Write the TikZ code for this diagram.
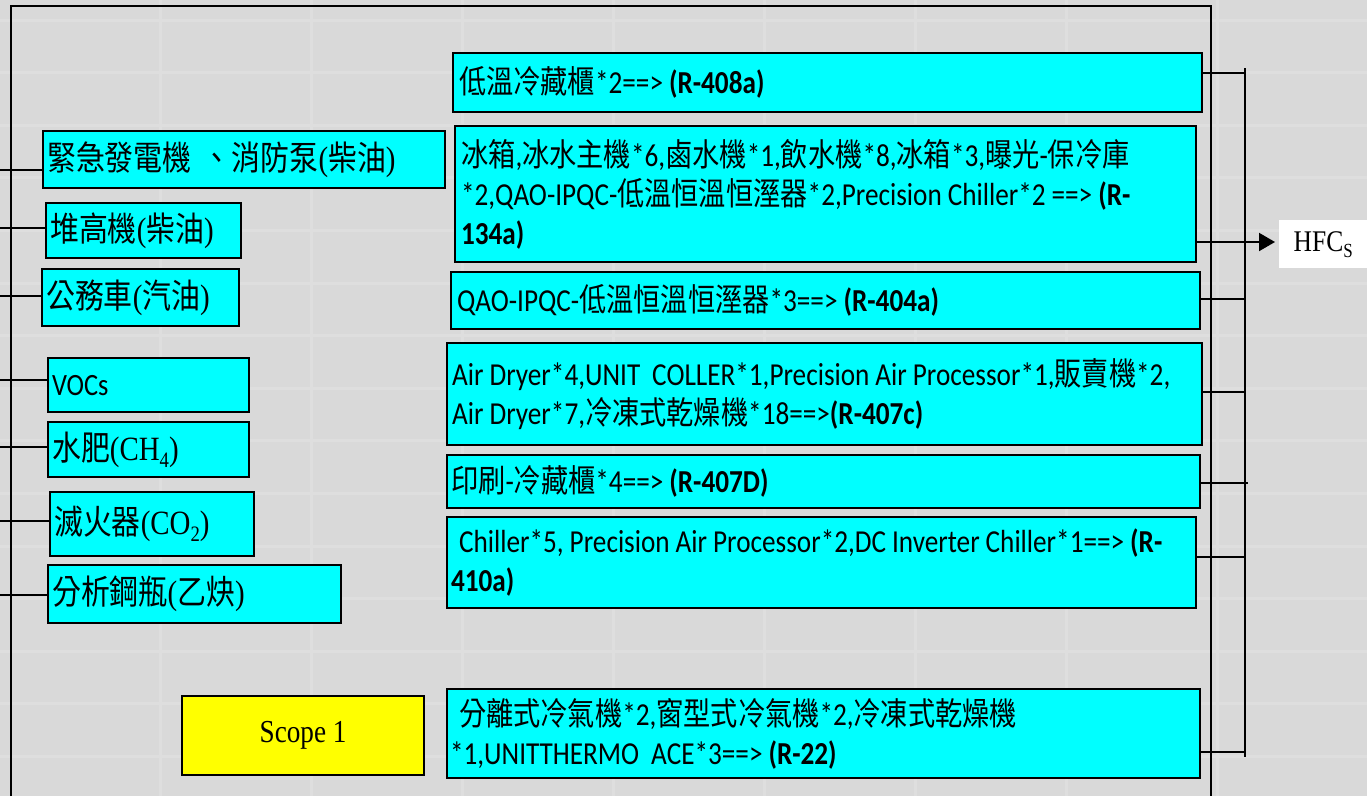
\documentclass[tikz,border=0pt]{standalone}
\usepackage{fontspec}
\setmainfont{Liberation Serif}[FakeStretch=0.85]
\newfontfamily\zhf{Noto Sans CJK TC}[FakeStretch=0.85]
\newfontfamily\calf{Carlito}[FakeStretch=0.85]
\newcommand\zh[1]{{\zhf #1}}
\newcommand\tightspace{\spaceskip=6pt\relax}
\usetikzlibrary{arrows.meta}
\definecolor{bgc}{HTML}{D9D9D9}
\definecolor{gridc}{HTML}{DEDEDE}
\definecolor{cy}{HTML}{00FFFF}
\definecolor{yl}{HTML}{FFFF00}
\tikzset{
  conn/.style={line width=2pt, draw=black},
  anybox/.style={draw=black, line width=2.2pt, anchor=north west, inner ysep=0pt, align=left},
  lbox/.style={anybox, fill=cy, inner xsep=4pt, font=\fontsize{34}{40}\selectfont},
  rbox/.style={anybox, fill=cy, inner xsep=6pt, font=\calf\fontsize{32}{39}\selectfont, execute at begin node=\tightspace},
  scopebox/.style={anybox, fill=yl, inner xsep=0pt, align=center, font=\fontsize{32}{38}\selectfont},
}
\begin{document}
\begin{tikzpicture}[x=1pt,y=-1pt]
\useasboundingbox (0,0) rectangle (1367,796);
\fill[bgc] (0,0) rectangle (1367,796);
\foreach \x in {160,311,...,1370} \draw[gridc, line width=3pt] (\x,0) -- (\x,796);
\foreach \i in {0,...,14} \draw[gridc, line width=3pt] (0,{20+52.6*\i}) -- (1367,{20+52.6*\i});
% frame
\draw[conn] (11,796) -- (11,6) -- (1211,6) -- (1211,796);
% left boxes
\node[lbox, text width=394, minimum height=57] (L1) at (42,130) {\mbox{\zh{緊急發電機} \zh{、消防泵}(\zh{柴油})}};
\node[lbox, text width=187, minimum height=55] (L2) at (45,202) {\mbox{\zh{堆高機}(\zh{柴油})}};
\node[lbox, text width=189, minimum height=57] (L3) at (41,268) {\mbox{\zh{公務車}(\zh{汽油})}};
\node[lbox, text width=193, minimum height=54, font=\calf\fontsize{31}{36}\selectfont] (L4) at (47,357) {VOCs};
\node[lbox, text width=193, minimum height=55] (L5) at (47,421) {\mbox{\zh{水肥}(CH{\fontsize{22}{22}\selectfont\raisebox{-7pt}{4}})}};
\node[lbox, text width=196, minimum height=64] (L6) at (49,491) {\mbox{\zh{滅火器}(CO{\fontsize{22}{22}\selectfont\raisebox{-7pt}{2}})}};
\node[lbox, text width=285, minimum height=58] (L7) at (47,564) {\mbox{\zh{分析鋼瓶}(\zh{乙炔})}};
\node[scopebox, minimum width=242, minimum height=79] (S1) at (181,695) {Scope 1};
% left connectors
\foreach \n/\y in {1/170,2/228,3/296,4/380,5/447,6/521,7/595}{
  \coordinate (lc\n) at (0,\y);
  \draw[conn] (lc\n) -- (lc\n -| L\n.west);
}
% right boxes
\node[rbox, text width=737, minimum height=59] (R1) at (452,52) {\mbox{\zh{低溫冷藏櫃}*2==>\ \textbf{(R-408a)}}};
\node[rbox, text width=729, minimum height=136] (R2) at (454,125) {\mbox{\zh{冰箱},\zh{冰水主機}*6,\zh{鹵水機}*1,\zh{飲水機}*8,\zh{冰箱}*3,\zh{曝光}-\zh{保冷庫}}\\\mbox{*2,QAO-IPQC-\zh{低溫恒溫恒溼器}*2,Precision Chiller*2 ==> \textbf{(R-}}\\\mbox{\textbf{134a)}}};
\node[rbox, text width=737, minimum height=57] (R3) at (450,271) {\mbox{QAO-IPQC-\zh{低溫恒溫恒溼器}*3==>\ \textbf{(R-404a)}}};
\node[rbox, inner xsep=5pt, text width=745, minimum height=102] (R4) at (446,342) {\mbox{Air Dryer*4,UNIT\ \ COLLER*1,Precision Air Processor*1,\zh{販賣機}*2,}\\\mbox{Air Dryer*7,\zh{冷凍式乾燥機}*18==>\textbf{(R-407c)}}};
\node[rbox, inner xsep=4pt, text width=745, minimum height=53] (R5) at (446,454) {\mbox{\zh{印刷}-\zh{冷藏櫃}*4==>\ \textbf{(R-407D)}}};
\node[rbox, inner xsep=4pt, text width=741, minimum height=91] (R6) at (446,516) {\mbox{\hspace{8pt}Chiller*5, Precision Air Processor*2,DC Inverter Chiller*1==> \textbf{(R-}}\\\mbox{\textbf{410a)}}};
\node[rbox, inner xsep=3pt, text width=747, minimum height=89] (R7) at (446,688) {\mbox{\hspace{9pt}\zh{分離式冷氣機}*2,\zh{窗型式冷氣機}*2,\zh{冷凍式乾燥機}}\\\mbox{*1,UNITTHERMO\ \ ACE*3==>\ \textbf{(R-22)}}};
% HFCs label
\node[fill=white, anchor=north west, minimum width=88, minimum height=48, inner sep=0pt, font=\fontsize{30}{34}\selectfont] (HF) at (1279,220) {HFC{\fontsize{20}{20}\selectfont\raisebox{-6pt}{S}}};
% right bus
\coordinate (bt) at (1245,68);
\coordinate (bb) at (1245,757);
\draw[conn] (bt) -- (bb);
\foreach \n/\y/\e in {1/73/1246,3/299/1246,4/392/1246,5/483/1248,6/557/1246,7/752/1245}{
  \coordinate (rc\n) at (\e,\y);
  \draw[conn] (rc\n -| R\n.east) -- (rc\n);
}
\coordinate (ar) at (1275,242);
\draw[conn, -{Triangle[length=16pt,width=18pt]}] (ar -| R2.east) -- (ar);
\end{tikzpicture}
\end{document}
